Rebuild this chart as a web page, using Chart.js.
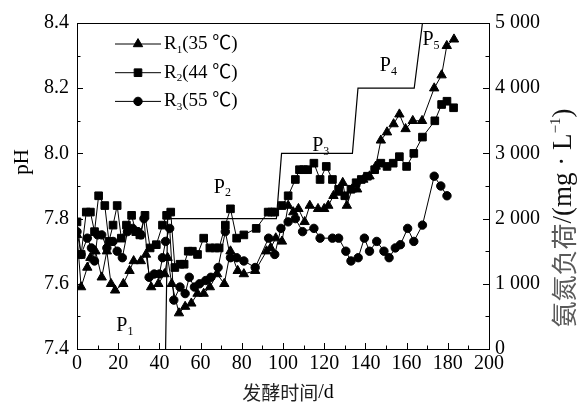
<!DOCTYPE html>
<html>
<head>
<meta charset="utf-8">
<script src="https://cdn.jsdelivr.net/npm/chart.js@4.4.0/dist/chart.umd.min.js"></script>
<style>
  html, body { margin: 0; padding: 0; background: #fff; }
  #c { display: block; }
</style>
</head>
<body>
<canvas id="c" width="578" height="405"></canvas>
<script>
// ── Data ──────────────────────────────────────────────────────
const r1Days = [0, 2, 5, 6.5, 9, 12, 14.5, 16.5, 18.5, 22.5, 25.5, 27.5, 31, 33.5, 36, 39.5, 42.5, 44, 46, 49.5, 52.5, 55.5, 58.5, 61.5, 64.5, 68, 71.5, 74.5, 78, 81, 86.5, 92, 94, 96.5, 99.5, 102.5, 105, 107.5, 110.5, 113, 117, 120, 122, 124.5, 127, 129, 131, 133.5, 136, 139, 142, 145, 147.5, 150.5, 153.7, 156.5, 159.5, 163, 167.5, 173.4, 177, 179.5, 183];
const r1PH   = [7.75, 7.59, 7.65, 7.68, 7.70, 7.62, 7.70, 7.60, 7.58, 7.60, 7.64, 7.67, 7.67, 7.69, 7.59, 7.60, 7.63, 7.68, 7.60, 7.51, 7.53, 7.54, 7.57, 7.57, 7.59, 7.63, 7.60, 7.70, 7.64, 7.63, 7.64, 7.70, 7.71, 7.74, 7.73, 7.84, 7.82, 7.83, 7.79, 7.84, 7.83, 7.83, 7.84, 7.87, 7.88, 7.91, 7.84, 7.89, 7.89, 7.92, 7.93, 7.96, 8.04, 8.065, 8.09, 8.12, 8.075, 8.10, 8.10, 8.20, 8.24, 8.33, 8.35];

const r2Days = [0, 2, 4.5, 6.5, 8.5, 10.5, 13.5, 15.5, 17.5, 19.5, 21.5, 24, 26.5, 28.5, 30.5, 33, 35.5, 38.5, 41.5, 43.5, 45.5, 47.5, 50, 52, 54, 56, 58.5, 61.5, 64.5, 67, 69, 72, 74.5, 77.5, 81, 87, 92.8, 94.5, 96, 99.5, 102.5, 106, 108, 110, 112, 115, 118, 121, 124, 127, 130, 133, 135.5, 138, 141, 144.5, 147.5, 150.5, 153.5, 156.5, 160, 163.5, 167.7, 173.7, 177, 179.6, 182.8];
const r2PH   = [7.79, 7.69, 7.82, 7.82, 7.76, 7.87, 7.84, 7.73, 7.78, 7.84, 7.74, 7.78, 7.81, 7.76, 7.75, 7.81, 7.71, 7.72, 7.78, 7.81, 7.82, 7.65, 7.66, 7.66, 7.70, 7.70, 7.69, 7.74, 7.71, 7.71, 7.71, 7.78, 7.83, 7.74, 7.75, 7.77, 7.82, 7.82, 7.82, 7.84, 7.87, 7.92, 7.95, 7.95, 7.95, 7.97, 7.92, 7.96, 7.92, 7.89, 7.87, 7.89, 7.91, 7.92, 7.93, 7.95, 7.97, 7.96, 7.97, 7.99, 7.96, 8.00, 8.05, 8.10, 8.15, 8.16, 8.14];

const r3Days = [0, 2, 5, 7, 8.5, 10, 12, 14.5, 17.5, 19.5, 22, 24.5, 27, 29.5, 31, 32.5, 35, 37.5, 40, 41.5, 43, 45, 47, 50, 52.5, 54.5, 57, 59.5, 62.5, 65, 68.5, 72, 74.5, 77.5, 81, 86.5, 93, 96, 99, 102.5, 106, 109.5, 115, 118, 124, 127, 130.5, 133, 136.5, 139.5, 142, 145.5, 149, 151.5, 154.5, 157, 160.5, 163.5, 167.7, 173.4, 176.6, 179.6];
const r3PH   = [7.76, 7.69, 7.74, 7.71, 7.67, 7.75, 7.75, 7.71, 7.73, 7.70, 7.68, 7.76, 7.77, 7.76, 7.75, 7.80, 7.62, 7.63, 7.63, 7.68, 7.73, 7.77, 7.55, 7.59, 7.57, 7.62, 7.59, 7.60, 7.61, 7.62, 7.65, 7.76, 7.68, 7.68, 7.67, 7.65, 7.74, 7.69, 7.77, 7.79, 7.80, 7.76, 7.77, 7.74, 7.74, 7.74, 7.70, 7.67, 7.68, 7.74, 7.70, 7.73, 7.70, 7.68, 7.71, 7.72, 7.77, 7.73, 7.78, 7.93, 7.90, 7.87];

// ammonia loading steps (right axis)
const loadDays  = [43, 44, 96.8, 99.3, 133.7, 136.4, 163.7, 167.7, 183];
const loadValue = [0, 2000, 2000, 3000, 3000, 4000, 4000, 5000, 5000];

const seriesNames = ["1", "2", "3"];
const seriesTemps = ["(35 ℃)", "(44 ℃)", "(55 ℃)"];
const seriesStyle = ["triangle", "rect", "circle"];

const phaseSubs = ["1", "2", "3", "4", "5"];
const phaseDay  = [22, 69.3, 117.1, 149.9, 170.6];
const phasePH   = [7.47, 7.896, 8.024, 8.269, 8.348];

// ── Helpers ───────────────────────────────────────────────────
const SERIF = "'Liberation Serif', 'Times New Roman', 'Noto Sans CJK SC', serif";
const CJK   = "'Noto Sans CJK SC', 'Liberation Serif', sans-serif";
const pts = (xs, ys) => xs.map((x, i) => ({ x, y: ys[i] }));
const fmtLoad = v => v === 0 ? "0" : String(v).replace(/(\d)(\d{3})$/, "$1 $2");

function subText(ctx, base, sub, rest, x, y, size) {
  ctx.font = `${size}px ${SERIF}`;
  ctx.fillText(base, x, y);
  let w = ctx.measureText(base).width;
  ctx.font = `${Math.round(size * 0.6)}px ${SERIF}`;
  ctx.fillText(sub, x + w, y + size * 0.3);
  w += ctx.measureText(sub).width;
  if (rest) {
    ctx.font = `${size}px ${SERIF}`;
    ctx.fillText(rest, x + w, y);
  }
}

const markerSize = { triangle: 5.4, rect: 5.4, circle: 4.2 };

// ── Decorations: inward ticks, frame, legend, labels ──────────
const decor = {
  id: "decor",
  afterDraw(chart) {
    const { ctx, chartArea: ca, scales } = chart;
    const xs = scales.x, ys = scales.y, y2 = scales.y2;
    ctx.save();
    ctx.strokeStyle = "#000";
    ctx.lineWidth = 1;

    // frame top line
    ctx.beginPath();
    ctx.moveTo(ca.left, ca.top + 0.5); ctx.lineTo(ca.right, ca.top + 0.5);
    ctx.stroke();

    ctx.beginPath();
    for (let v = 0; v <= 200; v += 10) {
      const px = Math.round(xs.getPixelForValue(v)) + 0.5;
      const len = v % 20 === 0 ? 6 : 3.5;
      ctx.moveTo(px, ca.bottom); ctx.lineTo(px, ca.bottom - len);
    }
    for (let i = 0; i <= 10; i++) {
      const py = Math.round(ys.getPixelForValue(7.4 + i * 0.1)) + 0.5;
      const len = i % 2 === 0 ? 6 : 3.5;
      ctx.moveTo(ca.left, py); ctx.lineTo(ca.left + len, py);
    }
    for (let v = 0; v <= 5000; v += 500) {
      const py = Math.round(y2.getPixelForValue(v)) + 0.5;
      const len = v % 1000 === 0 ? 6 : 3.5;
      ctx.moveTo(ca.right, py); ctx.lineTo(ca.right - len, py);
    }
    ctx.stroke();

    // phase labels
    ctx.fillStyle = "#000";
    ctx.textBaseline = "middle";
    ctx.textAlign = "left";
    phaseSubs.forEach((s, i) => {
      const px = xs.getPixelForValue(phaseDay[i]);
      const py = ys.getPixelForValue(phasePH[i]);
      subText(ctx, "P", s, "", px - 6, py, 20);
    });

    // legend
    const legX0 = ca.left + 38, legX1 = ca.left + 84;
    seriesNames.forEach((n, i) => {
      const ly = ca.top + 21 + i * 28.7;
      ctx.beginPath();
      ctx.moveTo(legX0, ly); ctx.lineTo(legX1, ly);
      ctx.stroke();
      Chart.helpers.drawPoint(ctx, { pointStyle: seriesStyle[i], radius: markerSize[seriesStyle[i]], rotation: 0, borderWidth: 1 }, (legX0 + legX1) / 2, ly);
      subText(ctx, "R", n, seriesTemps[i], legX1 + 3, ly, 19);
    });

    // x title
    ctx.textAlign = "left";
    const xt1 = "发酵时间", xt2 = "/d";
    ctx.font = `19px ${CJK}`;
    const w1 = ctx.measureText(xt1).width;
    ctx.font = `20px ${SERIF}`;
    const w2 = ctx.measureText(xt2).width;
    const sx = 288 - (w1 + w2) / 2;
    ctx.font = `19px ${CJK}`;
    ctx.fillStyle = "#222";
    ctx.fillText(xt1, sx, 393);
    ctx.font = `20px ${SERIF}`;
    ctx.fillStyle = "#000";
    ctx.fillText(xt2, sx + w1, 393);

    // pH
    ctx.save();
    ctx.translate(22, 162);
    ctx.rotate(-Math.PI / 2);
    ctx.textAlign = "center";
    ctx.font = `21px ${SERIF}`;
    ctx.fillText("pH", 0, 0);
    ctx.restore();

    // right title
    ctx.save();
    ctx.translate(564, 218);
    ctx.rotate(-Math.PI / 2);
    ctx.textAlign = "left";
    const parts = [
      ["氨氮负荷", `26px ${CJK}`, "#5a5a5a", 0],
      ["/(mg · L", `27px ${SERIF}`, "#111", 0],
      ["−1", `15px ${SERIF}`, "#111", -8],
      [")", `27px ${SERIF}`, "#111", 0]
    ];
    let total = 0;
    parts.forEach(p => { ctx.font = p[1]; total += ctx.measureText(p[0]).width; });
    let cx = -total / 2;
    parts.forEach(p => {
      ctx.font = p[1]; ctx.fillStyle = p[2];
      ctx.fillText(p[0], cx, p[3]);
      cx += ctx.measureText(p[0]).width;
    });
    ctx.restore();

    ctx.restore();
  }
};

const lineDs = (data, style) => ({
  data, yAxisID: "y",
  borderColor: "#000", backgroundColor: "#000", borderWidth: 1,
  pointStyle: style, pointRadius: markerSize[style], pointBorderWidth: 1,
  pointBackgroundColor: "#000", pointBorderColor: "#000", tension: 0
});

const tickFont = { family: SERIF, size: 20 };

new Chart(document.getElementById("c"), {
  type: "line",
  data: {
    datasets: [
      lineDs(pts(r1Days, r1PH), "triangle"),
      lineDs(pts(r2Days, r2PH), "rect"),
      lineDs(pts(r3Days, r3PH), "circle"),
      { data: pts(loadDays, loadValue), yAxisID: "y2", borderColor: "#000", borderWidth: 1.2, pointRadius: 0, tension: 0 }
    ]
  },
  options: {
    responsive: false, animation: false,
    layout: { padding: { top: 23, left: 0, right: 0, bottom: 0 } },
    plugins: { legend: { display: false }, tooltip: { enabled: false } },
    scales: {
      x: {
        type: "linear", min: 0, max: 200,
        grid: { display: false, drawTicks: false },
        border: { display: true, color: "#000", width: 1 },
        ticks: { stepSize: 20, font: tickFont, color: "#000", padding: 3, maxRotation: 0 },
        afterFit: s => { s.height = 56; }
      },
      y: {
        position: "left", min: 7.4, max: 8.4,
        grid: { display: false, drawTicks: false },
        border: { display: true, color: "#000", width: 1 },
        ticks: { stepSize: 0.2, font: tickFont, color: "#000", padding: 8, callback: v => v.toFixed(1) },
        afterFit: s => { s.width = 77; }
      },
      y2: {
        position: "right", min: 0, max: 5000,
        grid: { display: false, drawTicks: false },
        border: { display: true, color: "#000", width: 1 },
        ticks: { stepSize: 1000, font: tickFont, color: "#000", padding: 6, callback: fmtLoad },
        afterFit: s => { s.width = 89; }
      }
    }
  },
  plugins: [decor]
});
</script>
</body>
</html>
